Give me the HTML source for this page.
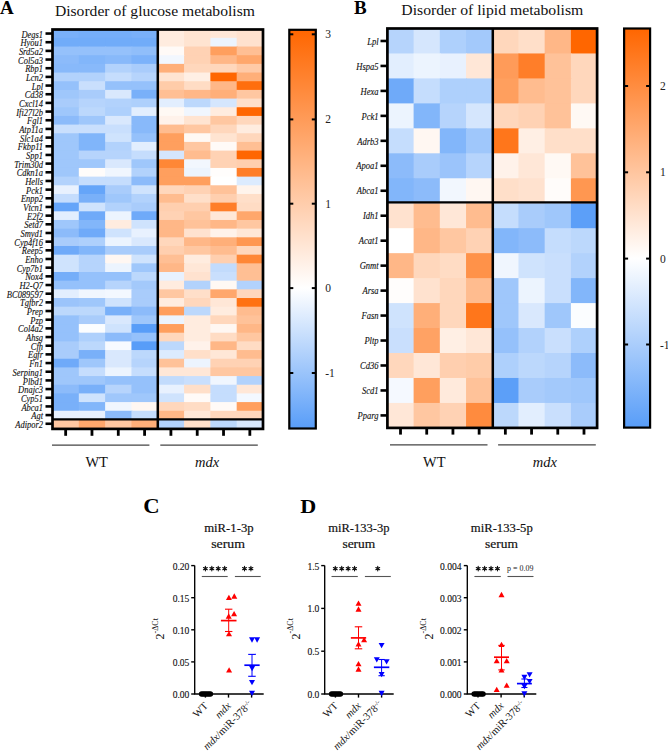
<!DOCTYPE html><html><head><meta charset="utf-8"><style>html,body{margin:0;padding:0;background:#fff;overflow:hidden}svg{display:block}</style></head><body>
<svg width="668" height="752" viewBox="0 0 668 752" font-family="Liberation Serif">
<defs>
<linearGradient id="cbA" x1="0" y1="0" x2="0" y2="1"><stop offset="0" stop-color="#ff6600"/><stop offset="0.6481" stop-color="#ffffff"/><stop offset="1" stop-color="#589df8"/></linearGradient>
<linearGradient id="cbB" x1="0" y1="0" x2="0" y2="1"><stop offset="0" stop-color="#ff6600"/><stop offset="0.5761" stop-color="#ffffff"/><stop offset="1" stop-color="#589df8"/></linearGradient>
</defs>
<text x="0" y="13.7" font-weight="bold" font-size="19">A</text>
<text x="354" y="13.7" font-weight="bold" font-size="19">B</text>
<text x="143.3" y="513.2" font-weight="bold" font-size="20" textLength="16.4" lengthAdjust="spacingAndGlyphs">C</text>
<text x="300.2" y="512.7" font-weight="bold" font-size="18.5" textLength="16.0" lengthAdjust="spacingAndGlyphs">D</text>
<text x="54.9" y="16.3" font-size="14.5" textLength="200" lengthAdjust="spacingAndGlyphs" fill="#111">Disorder of glucose metabolism</text>
<text x="401.3" y="15.2" font-size="14.5" textLength="182" lengthAdjust="spacingAndGlyphs" fill="#111">Disorder of lipid metabolism</text>
<rect x="52.50" y="29.20" width="27.31" height="9.67" fill="#79b0f9"/>
<rect x="78.81" y="29.20" width="27.31" height="9.67" fill="#75aef9"/>
<rect x="105.12" y="29.20" width="27.31" height="9.67" fill="#75aef9"/>
<rect x="131.44" y="29.20" width="27.31" height="9.67" fill="#79b0f9"/>
<rect x="157.75" y="29.20" width="27.31" height="9.67" fill="#ffecdf"/>
<rect x="184.06" y="29.20" width="27.31" height="9.67" fill="#ffe4d1"/>
<rect x="210.38" y="29.20" width="27.31" height="9.67" fill="#ffe7d7"/>
<rect x="236.69" y="29.20" width="27.31" height="9.67" fill="#ffe2cf"/>
<rect x="52.50" y="37.87" width="27.31" height="9.67" fill="#71acf9"/>
<rect x="78.81" y="37.87" width="27.31" height="9.67" fill="#71acf9"/>
<rect x="105.12" y="37.87" width="27.31" height="9.67" fill="#71acf9"/>
<rect x="131.44" y="37.87" width="27.31" height="9.67" fill="#71acf9"/>
<rect x="157.75" y="37.87" width="27.31" height="9.67" fill="#ffecdf"/>
<rect x="184.06" y="37.87" width="27.31" height="9.67" fill="#ffe4d1"/>
<rect x="210.38" y="37.87" width="27.31" height="9.67" fill="#ecf4fe"/>
<rect x="236.69" y="37.87" width="27.31" height="9.67" fill="#ffe2cf"/>
<rect x="52.50" y="46.54" width="27.31" height="9.67" fill="#95c1fb"/>
<rect x="78.81" y="46.54" width="27.31" height="9.67" fill="#95c1fb"/>
<rect x="105.12" y="46.54" width="27.31" height="9.67" fill="#95c1fb"/>
<rect x="131.44" y="46.54" width="27.31" height="9.67" fill="#90befa"/>
<rect x="157.75" y="46.54" width="27.31" height="9.67" fill="#fffaf7"/>
<rect x="184.06" y="46.54" width="27.31" height="9.67" fill="#ffd2b4"/>
<rect x="210.38" y="46.54" width="27.31" height="9.67" fill="#ff9f5e"/>
<rect x="236.69" y="46.54" width="27.31" height="9.67" fill="#ffbf94"/>
<rect x="52.50" y="55.22" width="27.31" height="9.67" fill="#8cbbfa"/>
<rect x="78.81" y="55.22" width="27.31" height="9.67" fill="#82b6fa"/>
<rect x="105.12" y="55.22" width="27.31" height="9.67" fill="#88b9fa"/>
<rect x="131.44" y="55.22" width="27.31" height="9.67" fill="#7cb2fa"/>
<rect x="157.75" y="55.22" width="27.31" height="9.67" fill="#f2f7fe"/>
<rect x="184.06" y="55.22" width="27.31" height="9.67" fill="#ffd2b4"/>
<rect x="210.38" y="55.22" width="27.31" height="9.67" fill="#ffb787"/>
<rect x="236.69" y="55.22" width="27.31" height="9.67" fill="#ffa76c"/>
<rect x="52.50" y="63.89" width="27.31" height="9.67" fill="#88b9fa"/>
<rect x="78.81" y="63.89" width="27.31" height="9.67" fill="#88b9fa"/>
<rect x="105.12" y="63.89" width="27.31" height="9.67" fill="#b2d2fc"/>
<rect x="131.44" y="63.89" width="27.31" height="9.67" fill="#a9ccfb"/>
<rect x="157.75" y="63.89" width="27.31" height="9.67" fill="#ffaf79"/>
<rect x="184.06" y="63.89" width="27.31" height="9.67" fill="#ffd7bc"/>
<rect x="210.38" y="63.89" width="27.31" height="9.67" fill="#ffd7bc"/>
<rect x="236.69" y="63.89" width="27.31" height="9.67" fill="#ffcaa7"/>
<rect x="52.50" y="72.56" width="27.31" height="9.67" fill="#b2d2fc"/>
<rect x="78.81" y="72.56" width="27.31" height="9.67" fill="#b2d2fc"/>
<rect x="105.12" y="72.56" width="27.31" height="9.67" fill="#c5ddfd"/>
<rect x="131.44" y="72.56" width="27.31" height="9.67" fill="#b6d4fc"/>
<rect x="157.75" y="72.56" width="27.31" height="9.67" fill="#ffe4d1"/>
<rect x="184.06" y="72.56" width="27.31" height="9.67" fill="#ffefe4"/>
<rect x="210.38" y="72.56" width="27.31" height="9.67" fill="#ff6601"/>
<rect x="236.69" y="72.56" width="27.31" height="9.67" fill="#ffaf79"/>
<rect x="52.50" y="81.23" width="27.31" height="9.67" fill="#95c1fb"/>
<rect x="78.81" y="81.23" width="27.31" height="9.67" fill="#c9dffd"/>
<rect x="105.12" y="81.23" width="27.31" height="9.67" fill="#95c1fb"/>
<rect x="131.44" y="81.23" width="27.31" height="9.67" fill="#95c1fb"/>
<rect x="157.75" y="81.23" width="27.31" height="9.67" fill="#ffcca9"/>
<rect x="184.06" y="81.23" width="27.31" height="9.67" fill="#ffdcc4"/>
<rect x="210.38" y="81.23" width="27.31" height="9.67" fill="#ffb787"/>
<rect x="236.69" y="81.23" width="27.31" height="9.67" fill="#ff6e0e"/>
<rect x="52.50" y="89.90" width="27.31" height="9.67" fill="#9fc7fb"/>
<rect x="78.81" y="89.90" width="27.31" height="9.67" fill="#a9ccfb"/>
<rect x="105.12" y="89.90" width="27.31" height="9.67" fill="#d9e8fd"/>
<rect x="131.44" y="89.90" width="27.31" height="9.67" fill="#79b0f9"/>
<rect x="157.75" y="89.90" width="27.31" height="9.67" fill="#ffbf94"/>
<rect x="184.06" y="89.90" width="27.31" height="9.67" fill="#ffb787"/>
<rect x="210.38" y="89.90" width="27.31" height="9.67" fill="#ffaf79"/>
<rect x="236.69" y="89.90" width="27.31" height="9.67" fill="#ffc7a1"/>
<rect x="52.50" y="98.57" width="27.31" height="9.67" fill="#a9ccfb"/>
<rect x="78.81" y="98.57" width="27.31" height="9.67" fill="#b6d4fc"/>
<rect x="105.12" y="98.57" width="27.31" height="9.67" fill="#b2d2fc"/>
<rect x="131.44" y="98.57" width="27.31" height="9.67" fill="#aed0fc"/>
<rect x="157.75" y="98.57" width="27.31" height="9.67" fill="#e2eefe"/>
<rect x="184.06" y="98.57" width="27.31" height="9.67" fill="#bcd8fc"/>
<rect x="210.38" y="98.57" width="27.31" height="9.67" fill="#d5e6fd"/>
<rect x="236.69" y="98.57" width="27.31" height="9.67" fill="#ffdfc9"/>
<rect x="52.50" y="107.25" width="27.31" height="9.67" fill="#9fc7fb"/>
<rect x="78.81" y="107.25" width="27.31" height="9.67" fill="#bcd8fc"/>
<rect x="105.12" y="107.25" width="27.31" height="9.67" fill="#aed0fc"/>
<rect x="131.44" y="107.25" width="27.31" height="9.67" fill="#e2eefe"/>
<rect x="157.75" y="107.25" width="27.31" height="9.67" fill="#fff9f4"/>
<rect x="184.06" y="107.25" width="27.31" height="9.67" fill="#f0f6fe"/>
<rect x="210.38" y="107.25" width="27.31" height="9.67" fill="#ffecdf"/>
<rect x="236.69" y="107.25" width="27.31" height="9.67" fill="#ff6601"/>
<rect x="52.50" y="115.92" width="27.31" height="9.67" fill="#8cbbfa"/>
<rect x="78.81" y="115.92" width="27.31" height="9.67" fill="#9fc7fb"/>
<rect x="105.12" y="115.92" width="27.31" height="9.67" fill="#d9e8fd"/>
<rect x="131.44" y="115.92" width="27.31" height="9.67" fill="#88b9fa"/>
<rect x="157.75" y="115.92" width="27.31" height="9.67" fill="#fff2ea"/>
<rect x="184.06" y="115.92" width="27.31" height="9.67" fill="#ffe4d1"/>
<rect x="210.38" y="115.92" width="27.31" height="9.67" fill="#ffc7a1"/>
<rect x="236.69" y="115.92" width="27.31" height="9.67" fill="#ffd7bc"/>
<rect x="52.50" y="124.59" width="27.31" height="9.67" fill="#c9dffd"/>
<rect x="78.81" y="124.59" width="27.31" height="9.67" fill="#c9dffd"/>
<rect x="105.12" y="124.59" width="27.31" height="9.67" fill="#c9dffd"/>
<rect x="131.44" y="124.59" width="27.31" height="9.67" fill="#88b9fa"/>
<rect x="157.75" y="124.59" width="27.31" height="9.67" fill="#ffbc8f"/>
<rect x="184.06" y="124.59" width="27.31" height="9.67" fill="#ffc7a1"/>
<rect x="210.38" y="124.59" width="27.31" height="9.67" fill="#ffd7bc"/>
<rect x="236.69" y="124.59" width="27.31" height="9.67" fill="#ffecdf"/>
<rect x="52.50" y="133.26" width="27.31" height="9.67" fill="#9fc7fb"/>
<rect x="78.81" y="133.26" width="27.31" height="9.67" fill="#80b5fa"/>
<rect x="105.12" y="133.26" width="27.31" height="9.67" fill="#cfe3fd"/>
<rect x="131.44" y="133.26" width="27.31" height="9.67" fill="#95c1fb"/>
<rect x="157.75" y="133.26" width="27.31" height="9.67" fill="#ff9f5e"/>
<rect x="184.06" y="133.26" width="27.31" height="9.67" fill="#fff9f4"/>
<rect x="210.38" y="133.26" width="27.31" height="9.67" fill="#ffe4d1"/>
<rect x="236.69" y="133.26" width="27.31" height="9.67" fill="#ffd7bc"/>
<rect x="52.50" y="141.93" width="27.31" height="9.67" fill="#9fc7fb"/>
<rect x="78.81" y="141.93" width="27.31" height="9.67" fill="#80b5fa"/>
<rect x="105.12" y="141.93" width="27.31" height="9.67" fill="#b2d2fc"/>
<rect x="131.44" y="141.93" width="27.31" height="9.67" fill="#e2eefe"/>
<rect x="157.75" y="141.93" width="27.31" height="9.67" fill="#ff9f5e"/>
<rect x="184.06" y="141.93" width="27.31" height="9.67" fill="#ffc7a1"/>
<rect x="210.38" y="141.93" width="27.31" height="9.67" fill="#fffaf7"/>
<rect x="236.69" y="141.93" width="27.31" height="9.67" fill="#ffbf94"/>
<rect x="52.50" y="150.60" width="27.31" height="9.67" fill="#9fc7fb"/>
<rect x="78.81" y="150.60" width="27.31" height="9.67" fill="#b6d4fc"/>
<rect x="105.12" y="150.60" width="27.31" height="9.67" fill="#b6d4fc"/>
<rect x="131.44" y="150.60" width="27.31" height="9.67" fill="#c5ddfd"/>
<rect x="157.75" y="150.60" width="27.31" height="9.67" fill="#d5e6fd"/>
<rect x="184.06" y="150.60" width="27.31" height="9.67" fill="#ffbc8f"/>
<rect x="210.38" y="150.60" width="27.31" height="9.67" fill="#ffd2b4"/>
<rect x="236.69" y="150.60" width="27.31" height="9.67" fill="#ff6601"/>
<rect x="52.50" y="159.28" width="27.31" height="9.67" fill="#9fc7fb"/>
<rect x="78.81" y="159.28" width="27.31" height="9.67" fill="#9fc7fb"/>
<rect x="105.12" y="159.28" width="27.31" height="9.67" fill="#d9e8fd"/>
<rect x="131.44" y="159.28" width="27.31" height="9.67" fill="#9fc7fb"/>
<rect x="157.75" y="159.28" width="27.31" height="9.67" fill="#ff8736"/>
<rect x="184.06" y="159.28" width="27.31" height="9.67" fill="#f2f7fe"/>
<rect x="210.38" y="159.28" width="27.31" height="9.67" fill="#ffd2b4"/>
<rect x="236.69" y="159.28" width="27.31" height="9.67" fill="#ffcfaf"/>
<rect x="52.50" y="167.95" width="27.31" height="9.67" fill="#9fc7fb"/>
<rect x="78.81" y="167.95" width="27.31" height="9.67" fill="#fffcfa"/>
<rect x="105.12" y="167.95" width="27.31" height="9.67" fill="#f0f6fe"/>
<rect x="131.44" y="167.95" width="27.31" height="9.67" fill="#b2d2fc"/>
<rect x="157.75" y="167.95" width="27.31" height="9.67" fill="#ff9f5e"/>
<rect x="184.06" y="167.95" width="27.31" height="9.67" fill="#ecf4fe"/>
<rect x="210.38" y="167.95" width="27.31" height="9.67" fill="#fffdfc"/>
<rect x="236.69" y="167.95" width="27.31" height="9.67" fill="#ff7e29"/>
<rect x="52.50" y="176.62" width="27.31" height="9.67" fill="#b2d2fc"/>
<rect x="78.81" y="176.62" width="27.31" height="9.67" fill="#c5ddfd"/>
<rect x="105.12" y="176.62" width="27.31" height="9.67" fill="#c5ddfd"/>
<rect x="131.44" y="176.62" width="27.31" height="9.67" fill="#8cbbfa"/>
<rect x="157.75" y="176.62" width="27.31" height="9.67" fill="#ff9f5e"/>
<rect x="184.06" y="176.62" width="27.31" height="9.67" fill="#ff9f5e"/>
<rect x="210.38" y="176.62" width="27.31" height="9.67" fill="#ffffff"/>
<rect x="236.69" y="176.62" width="27.31" height="9.67" fill="#dcebfe"/>
<rect x="52.50" y="185.29" width="27.31" height="9.67" fill="#e8f1fe"/>
<rect x="78.81" y="185.29" width="27.31" height="9.67" fill="#65a5f9"/>
<rect x="105.12" y="185.29" width="27.31" height="9.67" fill="#a9ccfb"/>
<rect x="131.44" y="185.29" width="27.31" height="9.67" fill="#cfe3fd"/>
<rect x="157.75" y="185.29" width="27.31" height="9.67" fill="#ffd7bc"/>
<rect x="184.06" y="185.29" width="27.31" height="9.67" fill="#ffd2b4"/>
<rect x="210.38" y="185.29" width="27.31" height="9.67" fill="#ffc299"/>
<rect x="236.69" y="185.29" width="27.31" height="9.67" fill="#fff4ec"/>
<rect x="52.50" y="193.96" width="27.31" height="9.67" fill="#c5ddfd"/>
<rect x="78.81" y="193.96" width="27.31" height="9.67" fill="#79b0f9"/>
<rect x="105.12" y="193.96" width="27.31" height="9.67" fill="#9fc7fb"/>
<rect x="131.44" y="193.96" width="27.31" height="9.67" fill="#b2d2fc"/>
<rect x="157.75" y="193.96" width="27.31" height="9.67" fill="#ffbc8f"/>
<rect x="184.06" y="193.96" width="27.31" height="9.67" fill="#ffdfc9"/>
<rect x="210.38" y="193.96" width="27.31" height="9.67" fill="#ffcfaf"/>
<rect x="236.69" y="193.96" width="27.31" height="9.67" fill="#ffdfc9"/>
<rect x="52.50" y="202.63" width="27.31" height="9.67" fill="#65a5f9"/>
<rect x="78.81" y="202.63" width="27.31" height="9.67" fill="#cfe3fd"/>
<rect x="105.12" y="202.63" width="27.31" height="9.67" fill="#b2d2fc"/>
<rect x="131.44" y="202.63" width="27.31" height="9.67" fill="#a9ccfb"/>
<rect x="157.75" y="202.63" width="27.31" height="9.67" fill="#ffcfaf"/>
<rect x="184.06" y="202.63" width="27.31" height="9.67" fill="#ffcfaf"/>
<rect x="210.38" y="202.63" width="27.31" height="9.67" fill="#ff7e29"/>
<rect x="236.69" y="202.63" width="27.31" height="9.67" fill="#ffdcc4"/>
<rect x="52.50" y="211.31" width="27.31" height="9.67" fill="#e2eefe"/>
<rect x="78.81" y="211.31" width="27.31" height="9.67" fill="#6faaf9"/>
<rect x="105.12" y="211.31" width="27.31" height="9.67" fill="#ecf4fe"/>
<rect x="131.44" y="211.31" width="27.31" height="9.67" fill="#6faaf9"/>
<rect x="157.75" y="211.31" width="27.31" height="9.67" fill="#ffd2b4"/>
<rect x="184.06" y="211.31" width="27.31" height="9.67" fill="#ffc7a1"/>
<rect x="210.38" y="211.31" width="27.31" height="9.67" fill="#ffe7d7"/>
<rect x="236.69" y="211.31" width="27.31" height="9.67" fill="#ffa76c"/>
<rect x="52.50" y="219.98" width="27.31" height="9.67" fill="#9fc7fb"/>
<rect x="78.81" y="219.98" width="27.31" height="9.67" fill="#82b6fa"/>
<rect x="105.12" y="219.98" width="27.31" height="9.67" fill="#ffecdf"/>
<rect x="131.44" y="219.98" width="27.31" height="9.67" fill="#cfe3fd"/>
<rect x="157.75" y="219.98" width="27.31" height="9.67" fill="#ffb787"/>
<rect x="184.06" y="219.98" width="27.31" height="9.67" fill="#ffc299"/>
<rect x="210.38" y="219.98" width="27.31" height="9.67" fill="#ffb787"/>
<rect x="236.69" y="219.98" width="27.31" height="9.67" fill="#ffc7a1"/>
<rect x="52.50" y="228.65" width="27.31" height="9.67" fill="#8cbbfa"/>
<rect x="78.81" y="228.65" width="27.31" height="9.67" fill="#6faaf9"/>
<rect x="105.12" y="228.65" width="27.31" height="9.67" fill="#cfe3fd"/>
<rect x="131.44" y="228.65" width="27.31" height="9.67" fill="#e8f1fe"/>
<rect x="157.75" y="228.65" width="27.31" height="9.67" fill="#ffb787"/>
<rect x="184.06" y="228.65" width="27.31" height="9.67" fill="#ffe2cf"/>
<rect x="210.38" y="228.65" width="27.31" height="9.67" fill="#fff2ea"/>
<rect x="236.69" y="228.65" width="27.31" height="9.67" fill="#ffe7d7"/>
<rect x="52.50" y="237.32" width="27.31" height="9.67" fill="#a9ccfb"/>
<rect x="78.81" y="237.32" width="27.31" height="9.67" fill="#aed0fc"/>
<rect x="105.12" y="237.32" width="27.31" height="9.67" fill="#ecf4fe"/>
<rect x="131.44" y="237.32" width="27.31" height="9.67" fill="#d9e8fd"/>
<rect x="157.75" y="237.32" width="27.31" height="9.67" fill="#ffd7bc"/>
<rect x="184.06" y="237.32" width="27.31" height="9.67" fill="#ffb787"/>
<rect x="210.38" y="237.32" width="27.31" height="9.67" fill="#ffaf79"/>
<rect x="236.69" y="237.32" width="27.31" height="9.67" fill="#ff9751"/>
<rect x="52.50" y="245.99" width="27.31" height="9.67" fill="#6faaf9"/>
<rect x="78.81" y="245.99" width="27.31" height="9.67" fill="#82b6fa"/>
<rect x="105.12" y="245.99" width="27.31" height="9.67" fill="#a9ccfb"/>
<rect x="131.44" y="245.99" width="27.31" height="9.67" fill="#a9ccfb"/>
<rect x="157.75" y="245.99" width="27.31" height="9.67" fill="#ffcfaf"/>
<rect x="184.06" y="245.99" width="27.31" height="9.67" fill="#ffc7a1"/>
<rect x="210.38" y="245.99" width="27.31" height="9.67" fill="#ffbc8f"/>
<rect x="236.69" y="245.99" width="27.31" height="9.67" fill="#ffd7bc"/>
<rect x="52.50" y="254.67" width="27.31" height="9.67" fill="#cfe3fd"/>
<rect x="78.81" y="254.67" width="27.31" height="9.67" fill="#b6d4fc"/>
<rect x="105.12" y="254.67" width="27.31" height="9.67" fill="#fff7f2"/>
<rect x="131.44" y="254.67" width="27.31" height="9.67" fill="#cfe3fd"/>
<rect x="157.75" y="254.67" width="27.31" height="9.67" fill="#ffbf94"/>
<rect x="184.06" y="254.67" width="27.31" height="9.67" fill="#ffecdf"/>
<rect x="210.38" y="254.67" width="27.31" height="9.67" fill="#ffcfaf"/>
<rect x="236.69" y="254.67" width="27.31" height="9.67" fill="#ff8736"/>
<rect x="52.50" y="263.34" width="27.31" height="9.67" fill="#cfe3fd"/>
<rect x="78.81" y="263.34" width="27.31" height="9.67" fill="#b6d4fc"/>
<rect x="105.12" y="263.34" width="27.31" height="9.67" fill="#ecf4fe"/>
<rect x="131.44" y="263.34" width="27.31" height="9.67" fill="#9fc7fb"/>
<rect x="157.75" y="263.34" width="27.31" height="9.67" fill="#ffb787"/>
<rect x="184.06" y="263.34" width="27.31" height="9.67" fill="#ffe7d7"/>
<rect x="210.38" y="263.34" width="27.31" height="9.67" fill="#c2dbfc"/>
<rect x="236.69" y="263.34" width="27.31" height="9.67" fill="#ffbf94"/>
<rect x="52.50" y="272.01" width="27.31" height="9.67" fill="#75aef9"/>
<rect x="78.81" y="272.01" width="27.31" height="9.67" fill="#95c1fb"/>
<rect x="105.12" y="272.01" width="27.31" height="9.67" fill="#95c1fb"/>
<rect x="131.44" y="272.01" width="27.31" height="9.67" fill="#bcd8fc"/>
<rect x="157.75" y="272.01" width="27.31" height="9.67" fill="#e8f1fe"/>
<rect x="184.06" y="272.01" width="27.31" height="9.67" fill="#ffe2cf"/>
<rect x="210.38" y="272.01" width="27.31" height="9.67" fill="#c9dffd"/>
<rect x="236.69" y="272.01" width="27.31" height="9.67" fill="#ffbf94"/>
<rect x="52.50" y="280.68" width="27.31" height="9.67" fill="#95c1fb"/>
<rect x="78.81" y="280.68" width="27.31" height="9.67" fill="#95c1fb"/>
<rect x="105.12" y="280.68" width="27.31" height="9.67" fill="#b6d4fc"/>
<rect x="131.44" y="280.68" width="27.31" height="9.67" fill="#a3c9fb"/>
<rect x="157.75" y="280.68" width="27.31" height="9.67" fill="#ffecdf"/>
<rect x="184.06" y="280.68" width="27.31" height="9.67" fill="#b2d2fc"/>
<rect x="210.38" y="280.68" width="27.31" height="9.67" fill="#fff9f4"/>
<rect x="236.69" y="280.68" width="27.31" height="9.67" fill="#b2d2fc"/>
<rect x="52.50" y="289.35" width="27.31" height="9.67" fill="#e2eefe"/>
<rect x="78.81" y="289.35" width="27.31" height="9.67" fill="#f0f6fe"/>
<rect x="105.12" y="289.35" width="27.31" height="9.67" fill="#f3f8ff"/>
<rect x="131.44" y="289.35" width="27.31" height="9.67" fill="#a9ccfb"/>
<rect x="157.75" y="289.35" width="27.31" height="9.67" fill="#ffc7a1"/>
<rect x="184.06" y="289.35" width="27.31" height="9.67" fill="#ffdfc9"/>
<rect x="210.38" y="289.35" width="27.31" height="9.67" fill="#ffa76c"/>
<rect x="236.69" y="289.35" width="27.31" height="9.67" fill="#ffd7bc"/>
<rect x="52.50" y="298.02" width="27.31" height="9.67" fill="#9bc4fb"/>
<rect x="78.81" y="298.02" width="27.31" height="9.67" fill="#9fc7fb"/>
<rect x="105.12" y="298.02" width="27.31" height="9.67" fill="#cfe3fd"/>
<rect x="131.44" y="298.02" width="27.31" height="9.67" fill="#a9ccfb"/>
<rect x="157.75" y="298.02" width="27.31" height="9.67" fill="#ffecdf"/>
<rect x="184.06" y="298.02" width="27.31" height="9.67" fill="#ffd7bc"/>
<rect x="210.38" y="298.02" width="27.31" height="9.67" fill="#ffe7d7"/>
<rect x="236.69" y="298.02" width="27.31" height="9.67" fill="#ff7213"/>
<rect x="52.50" y="306.70" width="27.31" height="9.67" fill="#bcd8fc"/>
<rect x="78.81" y="306.70" width="27.31" height="9.67" fill="#bcd8fc"/>
<rect x="105.12" y="306.70" width="27.31" height="9.67" fill="#79b0f9"/>
<rect x="131.44" y="306.70" width="27.31" height="9.67" fill="#8cbbfa"/>
<rect x="157.75" y="306.70" width="27.31" height="9.67" fill="#ff9f5e"/>
<rect x="184.06" y="306.70" width="27.31" height="9.67" fill="#bcd8fc"/>
<rect x="210.38" y="306.70" width="27.31" height="9.67" fill="#ffecdf"/>
<rect x="236.69" y="306.70" width="27.31" height="9.67" fill="#ffbc8f"/>
<rect x="52.50" y="315.37" width="27.31" height="9.67" fill="#95c1fb"/>
<rect x="78.81" y="315.37" width="27.31" height="9.67" fill="#a9ccfb"/>
<rect x="105.12" y="315.37" width="27.31" height="9.67" fill="#d9e8fd"/>
<rect x="131.44" y="315.37" width="27.31" height="9.67" fill="#9fc7fb"/>
<rect x="157.75" y="315.37" width="27.31" height="9.67" fill="#ecf4fe"/>
<rect x="184.06" y="315.37" width="27.31" height="9.67" fill="#ffecdf"/>
<rect x="210.38" y="315.37" width="27.31" height="9.67" fill="#ffd7bc"/>
<rect x="236.69" y="315.37" width="27.31" height="9.67" fill="#ffc299"/>
<rect x="52.50" y="324.04" width="27.31" height="9.67" fill="#95c1fb"/>
<rect x="78.81" y="324.04" width="27.31" height="9.67" fill="#fbfdff"/>
<rect x="105.12" y="324.04" width="27.31" height="9.67" fill="#cfe3fd"/>
<rect x="131.44" y="324.04" width="27.31" height="9.67" fill="#589df8"/>
<rect x="157.75" y="324.04" width="27.31" height="9.67" fill="#ff9f5e"/>
<rect x="184.06" y="324.04" width="27.31" height="9.67" fill="#ffecdf"/>
<rect x="210.38" y="324.04" width="27.31" height="9.67" fill="#fff7f2"/>
<rect x="236.69" y="324.04" width="27.31" height="9.67" fill="#ffb787"/>
<rect x="52.50" y="332.71" width="27.31" height="9.67" fill="#95c1fb"/>
<rect x="78.81" y="332.71" width="27.31" height="9.67" fill="#aed0fc"/>
<rect x="105.12" y="332.71" width="27.31" height="9.67" fill="#8cbbfa"/>
<rect x="131.44" y="332.71" width="27.31" height="9.67" fill="#95c1fb"/>
<rect x="157.75" y="332.71" width="27.31" height="9.67" fill="#ffd7bc"/>
<rect x="184.06" y="332.71" width="27.31" height="9.67" fill="#ffecdf"/>
<rect x="210.38" y="332.71" width="27.31" height="9.67" fill="#ffdcc4"/>
<rect x="236.69" y="332.71" width="27.31" height="9.67" fill="#ffc7a1"/>
<rect x="52.50" y="341.38" width="27.31" height="9.67" fill="#a9ccfb"/>
<rect x="78.81" y="341.38" width="27.31" height="9.67" fill="#bcd8fc"/>
<rect x="105.12" y="341.38" width="27.31" height="9.67" fill="#f7faff"/>
<rect x="131.44" y="341.38" width="27.31" height="9.67" fill="#589df8"/>
<rect x="157.75" y="341.38" width="27.31" height="9.67" fill="#bcd8fc"/>
<rect x="184.06" y="341.38" width="27.31" height="9.67" fill="#fff2ea"/>
<rect x="210.38" y="341.38" width="27.31" height="9.67" fill="#ffb787"/>
<rect x="236.69" y="341.38" width="27.31" height="9.67" fill="#ffdcc4"/>
<rect x="52.50" y="350.05" width="27.31" height="9.67" fill="#a9ccfb"/>
<rect x="78.81" y="350.05" width="27.31" height="9.67" fill="#79b0f9"/>
<rect x="105.12" y="350.05" width="27.31" height="9.67" fill="#d9e8fd"/>
<rect x="131.44" y="350.05" width="27.31" height="9.67" fill="#bcd8fc"/>
<rect x="157.75" y="350.05" width="27.31" height="9.67" fill="#dcebfe"/>
<rect x="184.06" y="350.05" width="27.31" height="9.67" fill="#ffdfc9"/>
<rect x="210.38" y="350.05" width="27.31" height="9.67" fill="#ffe7d7"/>
<rect x="236.69" y="350.05" width="27.31" height="9.67" fill="#ffbc8f"/>
<rect x="52.50" y="358.73" width="27.31" height="9.67" fill="#6faaf9"/>
<rect x="78.81" y="358.73" width="27.31" height="9.67" fill="#9fc7fb"/>
<rect x="105.12" y="358.73" width="27.31" height="9.67" fill="#d9e8fd"/>
<rect x="131.44" y="358.73" width="27.31" height="9.67" fill="#b6d4fc"/>
<rect x="157.75" y="358.73" width="27.31" height="9.67" fill="#ffc299"/>
<rect x="184.06" y="358.73" width="27.31" height="9.67" fill="#ecf4fe"/>
<rect x="210.38" y="358.73" width="27.31" height="9.67" fill="#ffd2b4"/>
<rect x="236.69" y="358.73" width="27.31" height="9.67" fill="#ffd2b4"/>
<rect x="52.50" y="367.40" width="27.31" height="9.67" fill="#9fc7fb"/>
<rect x="78.81" y="367.40" width="27.31" height="9.67" fill="#c5ddfd"/>
<rect x="105.12" y="367.40" width="27.31" height="9.67" fill="#ecf4fe"/>
<rect x="131.44" y="367.40" width="27.31" height="9.67" fill="#c5ddfd"/>
<rect x="157.75" y="367.40" width="27.31" height="9.67" fill="#ffe7d7"/>
<rect x="184.06" y="367.40" width="27.31" height="9.67" fill="#ffe7d7"/>
<rect x="210.38" y="367.40" width="27.31" height="9.67" fill="#ffc7a1"/>
<rect x="236.69" y="367.40" width="27.31" height="9.67" fill="#ffc7a1"/>
<rect x="52.50" y="376.07" width="27.31" height="9.67" fill="#9fc7fb"/>
<rect x="78.81" y="376.07" width="27.31" height="9.67" fill="#9fc7fb"/>
<rect x="105.12" y="376.07" width="27.31" height="9.67" fill="#95c1fb"/>
<rect x="131.44" y="376.07" width="27.31" height="9.67" fill="#95c1fb"/>
<rect x="157.75" y="376.07" width="27.31" height="9.67" fill="#c2dbfc"/>
<rect x="184.06" y="376.07" width="27.31" height="9.67" fill="#c9dffd"/>
<rect x="210.38" y="376.07" width="27.31" height="9.67" fill="#f0f6fe"/>
<rect x="236.69" y="376.07" width="27.31" height="9.67" fill="#b2d2fc"/>
<rect x="52.50" y="384.74" width="27.31" height="9.67" fill="#8cbbfa"/>
<rect x="78.81" y="384.74" width="27.31" height="9.67" fill="#79b0f9"/>
<rect x="105.12" y="384.74" width="27.31" height="9.67" fill="#b6d4fc"/>
<rect x="131.44" y="384.74" width="27.31" height="9.67" fill="#95c1fb"/>
<rect x="157.75" y="384.74" width="27.31" height="9.67" fill="#e8f1fe"/>
<rect x="184.06" y="384.74" width="27.31" height="9.67" fill="#ffdfc9"/>
<rect x="210.38" y="384.74" width="27.31" height="9.67" fill="#c5ddfd"/>
<rect x="236.69" y="384.74" width="27.31" height="9.67" fill="#ffe7d7"/>
<rect x="52.50" y="393.41" width="27.31" height="9.67" fill="#79b0f9"/>
<rect x="78.81" y="393.41" width="27.31" height="9.67" fill="#cfe3fd"/>
<rect x="105.12" y="393.41" width="27.31" height="9.67" fill="#9fc7fb"/>
<rect x="131.44" y="393.41" width="27.31" height="9.67" fill="#9fc7fb"/>
<rect x="157.75" y="393.41" width="27.31" height="9.67" fill="#cfe3fd"/>
<rect x="184.06" y="393.41" width="27.31" height="9.67" fill="#fffaf7"/>
<rect x="210.38" y="393.41" width="27.31" height="9.67" fill="#c5ddfd"/>
<rect x="236.69" y="393.41" width="27.31" height="9.67" fill="#f3f8ff"/>
<rect x="52.50" y="402.08" width="27.31" height="9.67" fill="#79b0f9"/>
<rect x="78.81" y="402.08" width="27.31" height="9.67" fill="#82b6fa"/>
<rect x="105.12" y="402.08" width="27.31" height="9.67" fill="#f0f6fe"/>
<rect x="131.44" y="402.08" width="27.31" height="9.67" fill="#fff7f2"/>
<rect x="157.75" y="402.08" width="27.31" height="9.67" fill="#ffd7bc"/>
<rect x="184.06" y="402.08" width="27.31" height="9.67" fill="#ffdcc4"/>
<rect x="210.38" y="402.08" width="27.31" height="9.67" fill="#fffaf7"/>
<rect x="236.69" y="402.08" width="27.31" height="9.67" fill="#ff9f5e"/>
<rect x="52.50" y="410.76" width="27.31" height="9.67" fill="#e8f1fe"/>
<rect x="78.81" y="410.76" width="27.31" height="9.67" fill="#e8f1fe"/>
<rect x="105.12" y="410.76" width="27.31" height="9.67" fill="#8cbbfa"/>
<rect x="131.44" y="410.76" width="27.31" height="9.67" fill="#c5ddfd"/>
<rect x="157.75" y="410.76" width="27.31" height="9.67" fill="#ffb787"/>
<rect x="184.06" y="410.76" width="27.31" height="9.67" fill="#ffe7d7"/>
<rect x="210.38" y="410.76" width="27.31" height="9.67" fill="#ffd7bc"/>
<rect x="236.69" y="410.76" width="27.31" height="9.67" fill="#ffd7bc"/>
<rect x="52.50" y="419.43" width="27.31" height="9.67" fill="#ffc7a1"/>
<rect x="78.81" y="419.43" width="27.31" height="9.67" fill="#ffa76c"/>
<rect x="105.12" y="419.43" width="27.31" height="9.67" fill="#ffc7a1"/>
<rect x="131.44" y="419.43" width="27.31" height="9.67" fill="#ffaf79"/>
<rect x="157.75" y="419.43" width="27.31" height="9.67" fill="#b2d2fc"/>
<rect x="184.06" y="419.43" width="27.31" height="9.67" fill="#ffdfc9"/>
<rect x="210.38" y="419.43" width="27.31" height="9.67" fill="#bcd8fc"/>
<rect x="236.69" y="419.43" width="27.31" height="9.67" fill="#d9e8fd"/>
<line x1="157.8" y1="29.5" x2="157.8" y2="428.9" stroke="#000" stroke-width="2.5"/>
<line x1="52.5" y1="419.43" x2="263.0" y2="419.43" stroke="#000" stroke-width="2.2"/>
<rect x="52.5" y="29.5" width="210.5" height="399.4" fill="none" stroke="#000" stroke-width="2.7"/>
<line x1="45.5" y1="33.54" x2="52.5" y2="33.54" stroke="#000" stroke-width="2.6"/>
<text transform="translate(43.0,37.64) scale(0.9,1)" text-anchor="end" font-style="italic" font-size="9.4" fill="#111" stroke="#111" stroke-width="0.12">Degs1</text>
<line x1="45.5" y1="42.21" x2="52.5" y2="42.21" stroke="#000" stroke-width="2.6"/>
<text transform="translate(43.0,46.31) scale(0.9,1)" text-anchor="end" font-style="italic" font-size="9.4" fill="#111" stroke="#111" stroke-width="0.12">Hyou1</text>
<line x1="45.5" y1="50.88" x2="52.5" y2="50.88" stroke="#000" stroke-width="2.6"/>
<text transform="translate(43.0,54.98) scale(0.9,1)" text-anchor="end" font-style="italic" font-size="9.4" fill="#111" stroke="#111" stroke-width="0.12">Srd5a2</text>
<line x1="45.5" y1="59.55" x2="52.5" y2="59.55" stroke="#000" stroke-width="2.6"/>
<text transform="translate(43.0,63.65) scale(0.9,1)" text-anchor="end" font-style="italic" font-size="9.4" fill="#111" stroke="#111" stroke-width="0.12">Col5a3</text>
<line x1="45.5" y1="68.22" x2="52.5" y2="68.22" stroke="#000" stroke-width="2.6"/>
<text transform="translate(43.0,72.32) scale(0.9,1)" text-anchor="end" font-style="italic" font-size="9.4" fill="#111" stroke="#111" stroke-width="0.12">Rbp1</text>
<line x1="45.5" y1="76.89" x2="52.5" y2="76.89" stroke="#000" stroke-width="2.6"/>
<text transform="translate(43.0,80.99) scale(0.9,1)" text-anchor="end" font-style="italic" font-size="9.4" fill="#111" stroke="#111" stroke-width="0.12">Lcn2</text>
<line x1="45.5" y1="85.57" x2="52.5" y2="85.57" stroke="#000" stroke-width="2.6"/>
<text transform="translate(43.0,89.67) scale(0.9,1)" text-anchor="end" font-style="italic" font-size="9.4" fill="#111" stroke="#111" stroke-width="0.12">Lpl</text>
<line x1="45.5" y1="94.24" x2="52.5" y2="94.24" stroke="#000" stroke-width="2.6"/>
<text transform="translate(43.0,98.34) scale(0.9,1)" text-anchor="end" font-style="italic" font-size="9.4" fill="#111" stroke="#111" stroke-width="0.12">Cd38</text>
<line x1="45.5" y1="102.91" x2="52.5" y2="102.91" stroke="#000" stroke-width="2.6"/>
<text transform="translate(43.0,107.01) scale(0.9,1)" text-anchor="end" font-style="italic" font-size="9.4" fill="#111" stroke="#111" stroke-width="0.12">Cxcl14</text>
<line x1="45.5" y1="111.58" x2="52.5" y2="111.58" stroke="#000" stroke-width="2.6"/>
<text transform="translate(43.0,115.68) scale(0.9,1)" text-anchor="end" font-style="italic" font-size="9.4" fill="#111" stroke="#111" stroke-width="0.12">Ifi27l2b</text>
<line x1="45.5" y1="120.25" x2="52.5" y2="120.25" stroke="#000" stroke-width="2.6"/>
<text transform="translate(43.0,124.35) scale(0.9,1)" text-anchor="end" font-style="italic" font-size="9.4" fill="#111" stroke="#111" stroke-width="0.12">Fgl1</text>
<line x1="45.5" y1="128.93" x2="52.5" y2="128.93" stroke="#000" stroke-width="2.6"/>
<text transform="translate(43.0,133.03) scale(0.9,1)" text-anchor="end" font-style="italic" font-size="9.4" fill="#111" stroke="#111" stroke-width="0.12">Atp11a</text>
<line x1="45.5" y1="137.60" x2="52.5" y2="137.60" stroke="#000" stroke-width="2.6"/>
<text transform="translate(43.0,141.70) scale(0.9,1)" text-anchor="end" font-style="italic" font-size="9.4" fill="#111" stroke="#111" stroke-width="0.12">Slc1a4</text>
<line x1="45.5" y1="146.27" x2="52.5" y2="146.27" stroke="#000" stroke-width="2.6"/>
<text transform="translate(43.0,150.37) scale(0.9,1)" text-anchor="end" font-style="italic" font-size="9.4" fill="#111" stroke="#111" stroke-width="0.12">Fkbp11</text>
<line x1="45.5" y1="154.94" x2="52.5" y2="154.94" stroke="#000" stroke-width="2.6"/>
<text transform="translate(43.0,159.04) scale(0.9,1)" text-anchor="end" font-style="italic" font-size="9.4" fill="#111" stroke="#111" stroke-width="0.12">Spp1</text>
<line x1="45.5" y1="163.61" x2="52.5" y2="163.61" stroke="#000" stroke-width="2.6"/>
<text transform="translate(43.0,167.71) scale(0.9,1)" text-anchor="end" font-style="italic" font-size="9.4" fill="#111" stroke="#111" stroke-width="0.12">Trim30d</text>
<line x1="45.5" y1="172.28" x2="52.5" y2="172.28" stroke="#000" stroke-width="2.6"/>
<text transform="translate(43.0,176.38) scale(0.9,1)" text-anchor="end" font-style="italic" font-size="9.4" fill="#111" stroke="#111" stroke-width="0.12">Cdkn1a</text>
<line x1="45.5" y1="180.96" x2="52.5" y2="180.96" stroke="#000" stroke-width="2.6"/>
<text transform="translate(43.0,185.06) scale(0.9,1)" text-anchor="end" font-style="italic" font-size="9.4" fill="#111" stroke="#111" stroke-width="0.12">Hells</text>
<line x1="45.5" y1="189.63" x2="52.5" y2="189.63" stroke="#000" stroke-width="2.6"/>
<text transform="translate(43.0,193.73) scale(0.9,1)" text-anchor="end" font-style="italic" font-size="9.4" fill="#111" stroke="#111" stroke-width="0.12">Pck1</text>
<line x1="45.5" y1="198.30" x2="52.5" y2="198.30" stroke="#000" stroke-width="2.6"/>
<text transform="translate(43.0,202.40) scale(0.9,1)" text-anchor="end" font-style="italic" font-size="9.4" fill="#111" stroke="#111" stroke-width="0.12">Enpp2</text>
<line x1="45.5" y1="206.97" x2="52.5" y2="206.97" stroke="#000" stroke-width="2.6"/>
<text transform="translate(43.0,211.07) scale(0.9,1)" text-anchor="end" font-style="italic" font-size="9.4" fill="#111" stroke="#111" stroke-width="0.12">Vtcn1</text>
<line x1="45.5" y1="215.64" x2="52.5" y2="215.64" stroke="#000" stroke-width="2.6"/>
<text transform="translate(43.0,219.74) scale(0.9,1)" text-anchor="end" font-style="italic" font-size="9.4" fill="#111" stroke="#111" stroke-width="0.12">E2f2</text>
<line x1="45.5" y1="224.31" x2="52.5" y2="224.31" stroke="#000" stroke-width="2.6"/>
<text transform="translate(43.0,228.41) scale(0.9,1)" text-anchor="end" font-style="italic" font-size="9.4" fill="#111" stroke="#111" stroke-width="0.12">Setd7</text>
<line x1="45.5" y1="232.99" x2="52.5" y2="232.99" stroke="#000" stroke-width="2.6"/>
<text transform="translate(43.0,237.09) scale(0.9,1)" text-anchor="end" font-style="italic" font-size="9.4" fill="#111" stroke="#111" stroke-width="0.12">Smyd1</text>
<line x1="45.5" y1="241.66" x2="52.5" y2="241.66" stroke="#000" stroke-width="2.6"/>
<text transform="translate(43.0,245.76) scale(0.9,1)" text-anchor="end" font-style="italic" font-size="9.4" fill="#111" stroke="#111" stroke-width="0.12">Cyp4f16</text>
<line x1="45.5" y1="250.33" x2="52.5" y2="250.33" stroke="#000" stroke-width="2.6"/>
<text transform="translate(43.0,254.43) scale(0.9,1)" text-anchor="end" font-style="italic" font-size="9.4" fill="#111" stroke="#111" stroke-width="0.12">Reep5</text>
<line x1="45.5" y1="259.00" x2="52.5" y2="259.00" stroke="#000" stroke-width="2.6"/>
<text transform="translate(43.0,263.10) scale(0.9,1)" text-anchor="end" font-style="italic" font-size="9.4" fill="#111" stroke="#111" stroke-width="0.12">Enho</text>
<line x1="45.5" y1="267.67" x2="52.5" y2="267.67" stroke="#000" stroke-width="2.6"/>
<text transform="translate(43.0,271.77) scale(0.9,1)" text-anchor="end" font-style="italic" font-size="9.4" fill="#111" stroke="#111" stroke-width="0.12">Cyp7b1</text>
<line x1="45.5" y1="276.34" x2="52.5" y2="276.34" stroke="#000" stroke-width="2.6"/>
<text transform="translate(43.0,280.44) scale(0.9,1)" text-anchor="end" font-style="italic" font-size="9.4" fill="#111" stroke="#111" stroke-width="0.12">Nox4</text>
<line x1="45.5" y1="285.02" x2="52.5" y2="285.02" stroke="#000" stroke-width="2.6"/>
<text transform="translate(43.0,289.12) scale(0.9,1)" text-anchor="end" font-style="italic" font-size="9.4" fill="#111" stroke="#111" stroke-width="0.12">H2-Q7</text>
<line x1="45.5" y1="293.69" x2="52.5" y2="293.69" stroke="#000" stroke-width="2.6"/>
<text transform="translate(43.0,297.79) scale(0.9,1)" text-anchor="end" font-style="italic" font-size="9.4" fill="#111" stroke="#111" stroke-width="0.12">BC089597</text>
<line x1="45.5" y1="302.36" x2="52.5" y2="302.36" stroke="#000" stroke-width="2.6"/>
<text transform="translate(43.0,306.46) scale(0.9,1)" text-anchor="end" font-style="italic" font-size="9.4" fill="#111" stroke="#111" stroke-width="0.12">Tgfbr2</text>
<line x1="45.5" y1="311.03" x2="52.5" y2="311.03" stroke="#000" stroke-width="2.6"/>
<text transform="translate(43.0,315.13) scale(0.9,1)" text-anchor="end" font-style="italic" font-size="9.4" fill="#111" stroke="#111" stroke-width="0.12">Prep</text>
<line x1="45.5" y1="319.70" x2="52.5" y2="319.70" stroke="#000" stroke-width="2.6"/>
<text transform="translate(43.0,323.80) scale(0.9,1)" text-anchor="end" font-style="italic" font-size="9.4" fill="#111" stroke="#111" stroke-width="0.12">Pzp</text>
<line x1="45.5" y1="328.38" x2="52.5" y2="328.38" stroke="#000" stroke-width="2.6"/>
<text transform="translate(43.0,332.48) scale(0.9,1)" text-anchor="end" font-style="italic" font-size="9.4" fill="#111" stroke="#111" stroke-width="0.12">Col4a2</text>
<line x1="45.5" y1="337.05" x2="52.5" y2="337.05" stroke="#000" stroke-width="2.6"/>
<text transform="translate(43.0,341.15) scale(0.9,1)" text-anchor="end" font-style="italic" font-size="9.4" fill="#111" stroke="#111" stroke-width="0.12">Ahsg</text>
<line x1="45.5" y1="345.72" x2="52.5" y2="345.72" stroke="#000" stroke-width="2.6"/>
<text transform="translate(43.0,349.82) scale(0.9,1)" text-anchor="end" font-style="italic" font-size="9.4" fill="#111" stroke="#111" stroke-width="0.12">Cfh</text>
<line x1="45.5" y1="354.39" x2="52.5" y2="354.39" stroke="#000" stroke-width="2.6"/>
<text transform="translate(43.0,358.49) scale(0.9,1)" text-anchor="end" font-style="italic" font-size="9.4" fill="#111" stroke="#111" stroke-width="0.12">Egfr</text>
<line x1="45.5" y1="363.06" x2="52.5" y2="363.06" stroke="#000" stroke-width="2.6"/>
<text transform="translate(43.0,367.16) scale(0.9,1)" text-anchor="end" font-style="italic" font-size="9.4" fill="#111" stroke="#111" stroke-width="0.12">Fn1</text>
<line x1="45.5" y1="371.73" x2="52.5" y2="371.73" stroke="#000" stroke-width="2.6"/>
<text transform="translate(43.0,375.83) scale(0.9,1)" text-anchor="end" font-style="italic" font-size="9.4" fill="#111" stroke="#111" stroke-width="0.12">Serping1</text>
<line x1="45.5" y1="380.41" x2="52.5" y2="380.41" stroke="#000" stroke-width="2.6"/>
<text transform="translate(43.0,384.51) scale(0.9,1)" text-anchor="end" font-style="italic" font-size="9.4" fill="#111" stroke="#111" stroke-width="0.12">Plbd1</text>
<line x1="45.5" y1="389.08" x2="52.5" y2="389.08" stroke="#000" stroke-width="2.6"/>
<text transform="translate(43.0,393.18) scale(0.9,1)" text-anchor="end" font-style="italic" font-size="9.4" fill="#111" stroke="#111" stroke-width="0.12">Dnajc3</text>
<line x1="45.5" y1="397.75" x2="52.5" y2="397.75" stroke="#000" stroke-width="2.6"/>
<text transform="translate(43.0,401.85) scale(0.9,1)" text-anchor="end" font-style="italic" font-size="9.4" fill="#111" stroke="#111" stroke-width="0.12">Cyp51</text>
<line x1="45.5" y1="406.42" x2="52.5" y2="406.42" stroke="#000" stroke-width="2.6"/>
<text transform="translate(43.0,410.52) scale(0.9,1)" text-anchor="end" font-style="italic" font-size="9.4" fill="#111" stroke="#111" stroke-width="0.12">Abca1</text>
<line x1="45.5" y1="415.09" x2="52.5" y2="415.09" stroke="#000" stroke-width="2.6"/>
<text transform="translate(43.0,419.19) scale(0.9,1)" text-anchor="end" font-style="italic" font-size="9.4" fill="#111" stroke="#111" stroke-width="0.12">Agt</text>
<line x1="45.5" y1="423.76" x2="52.5" y2="423.76" stroke="#000" stroke-width="2.6"/>
<text transform="translate(43.0,427.86) scale(0.9,1)" text-anchor="end" font-style="italic" font-size="9.4" fill="#111" stroke="#111" stroke-width="0.12">Adipor2</text>
<line x1="65.66" y1="428.9" x2="65.66" y2="435.8" stroke="#000" stroke-width="2.8"/>
<line x1="91.97" y1="428.9" x2="91.97" y2="435.8" stroke="#000" stroke-width="2.8"/>
<line x1="118.28" y1="428.9" x2="118.28" y2="435.8" stroke="#000" stroke-width="2.8"/>
<line x1="144.59" y1="428.9" x2="144.59" y2="435.8" stroke="#000" stroke-width="2.8"/>
<line x1="170.91" y1="428.9" x2="170.91" y2="435.8" stroke="#000" stroke-width="2.8"/>
<line x1="197.22" y1="428.9" x2="197.22" y2="435.8" stroke="#000" stroke-width="2.8"/>
<line x1="223.53" y1="428.9" x2="223.53" y2="435.8" stroke="#000" stroke-width="2.8"/>
<line x1="249.84" y1="428.9" x2="249.84" y2="435.8" stroke="#000" stroke-width="2.8"/>
<rect x="387.40" y="28.50" width="27.21" height="25.96" fill="#b6d4fc"/>
<rect x="413.61" y="28.50" width="27.21" height="25.96" fill="#d5e6fd"/>
<rect x="439.82" y="28.50" width="27.21" height="25.96" fill="#aed0fc"/>
<rect x="466.04" y="28.50" width="27.21" height="25.96" fill="#a3c9fb"/>
<rect x="492.25" y="28.50" width="27.21" height="25.96" fill="#ffd7bc"/>
<rect x="518.46" y="28.50" width="27.21" height="25.96" fill="#ffdfc9"/>
<rect x="544.67" y="28.50" width="27.21" height="25.96" fill="#ffb787"/>
<rect x="570.89" y="28.50" width="27.21" height="25.96" fill="#ff6600"/>
<rect x="387.40" y="53.46" width="27.21" height="25.96" fill="#e2eefe"/>
<rect x="413.61" y="53.46" width="27.21" height="25.96" fill="#ecf4fe"/>
<rect x="439.82" y="53.46" width="27.21" height="25.96" fill="#e8f1fe"/>
<rect x="466.04" y="53.46" width="27.21" height="25.96" fill="#ffe7d7"/>
<rect x="492.25" y="53.46" width="27.21" height="25.96" fill="#ff9b59"/>
<rect x="518.46" y="53.46" width="27.21" height="25.96" fill="#ff7e29"/>
<rect x="544.67" y="53.46" width="27.21" height="25.96" fill="#ffc299"/>
<rect x="570.89" y="53.46" width="27.21" height="25.96" fill="#ffd7bc"/>
<rect x="387.40" y="78.42" width="27.21" height="25.96" fill="#6faaf9"/>
<rect x="413.61" y="78.42" width="27.21" height="25.96" fill="#c5ddfd"/>
<rect x="439.82" y="78.42" width="27.21" height="25.96" fill="#aed0fc"/>
<rect x="466.04" y="78.42" width="27.21" height="25.96" fill="#aed0fc"/>
<rect x="492.25" y="78.42" width="27.21" height="25.96" fill="#ff9f5e"/>
<rect x="518.46" y="78.42" width="27.21" height="25.96" fill="#ffbc8f"/>
<rect x="544.67" y="78.42" width="27.21" height="25.96" fill="#ffc299"/>
<rect x="570.89" y="78.42" width="27.21" height="25.96" fill="#ffd7bc"/>
<rect x="387.40" y="103.39" width="27.21" height="25.96" fill="#ecf4fe"/>
<rect x="413.61" y="103.39" width="27.21" height="25.96" fill="#82b6fa"/>
<rect x="439.82" y="103.39" width="27.21" height="25.96" fill="#b6d4fc"/>
<rect x="466.04" y="103.39" width="27.21" height="25.96" fill="#d5e6fd"/>
<rect x="492.25" y="103.39" width="27.21" height="25.96" fill="#ffd7bc"/>
<rect x="518.46" y="103.39" width="27.21" height="25.96" fill="#ffd2b4"/>
<rect x="544.67" y="103.39" width="27.21" height="25.96" fill="#ffc299"/>
<rect x="570.89" y="103.39" width="27.21" height="25.96" fill="#fff9f4"/>
<rect x="387.40" y="128.35" width="27.21" height="25.96" fill="#c5ddfd"/>
<rect x="413.61" y="128.35" width="27.21" height="25.96" fill="#fff7f2"/>
<rect x="439.82" y="128.35" width="27.21" height="25.96" fill="#82b6fa"/>
<rect x="466.04" y="128.35" width="27.21" height="25.96" fill="#9fc7fb"/>
<rect x="492.25" y="128.35" width="27.21" height="25.96" fill="#ff761b"/>
<rect x="518.46" y="128.35" width="27.21" height="25.96" fill="#ffefe4"/>
<rect x="544.67" y="128.35" width="27.21" height="25.96" fill="#ffdfc9"/>
<rect x="570.89" y="128.35" width="27.21" height="25.96" fill="#ffdfc9"/>
<rect x="387.40" y="153.31" width="27.21" height="25.96" fill="#8cbbfa"/>
<rect x="413.61" y="153.31" width="27.21" height="25.96" fill="#a9ccfb"/>
<rect x="439.82" y="153.31" width="27.21" height="25.96" fill="#9bc4fb"/>
<rect x="466.04" y="153.31" width="27.21" height="25.96" fill="#b6d4fc"/>
<rect x="492.25" y="153.31" width="27.21" height="25.96" fill="#fff2ea"/>
<rect x="518.46" y="153.31" width="27.21" height="25.96" fill="#ffe7d7"/>
<rect x="544.67" y="153.31" width="27.21" height="25.96" fill="#fff9f4"/>
<rect x="570.89" y="153.31" width="27.21" height="25.96" fill="#ffc299"/>
<rect x="387.40" y="178.27" width="27.21" height="25.96" fill="#82b6fa"/>
<rect x="413.61" y="178.27" width="27.21" height="25.96" fill="#8cbbfa"/>
<rect x="439.82" y="178.27" width="27.21" height="25.96" fill="#f2f7fe"/>
<rect x="466.04" y="178.27" width="27.21" height="25.96" fill="#fff7f2"/>
<rect x="492.25" y="178.27" width="27.21" height="25.96" fill="#ffdfc9"/>
<rect x="518.46" y="178.27" width="27.21" height="25.96" fill="#ffe2cf"/>
<rect x="544.67" y="178.27" width="27.21" height="25.96" fill="#fffcfa"/>
<rect x="570.89" y="178.27" width="27.21" height="25.96" fill="#ff9751"/>
<rect x="387.40" y="203.24" width="27.21" height="25.96" fill="#ffe2cf"/>
<rect x="413.61" y="203.24" width="27.21" height="25.96" fill="#ffbc8f"/>
<rect x="439.82" y="203.24" width="27.21" height="25.96" fill="#ffe7d7"/>
<rect x="466.04" y="203.24" width="27.21" height="25.96" fill="#ffbc8f"/>
<rect x="492.25" y="203.24" width="27.21" height="25.96" fill="#c5ddfd"/>
<rect x="518.46" y="203.24" width="27.21" height="25.96" fill="#a9ccfb"/>
<rect x="544.67" y="203.24" width="27.21" height="25.96" fill="#9fc7fb"/>
<rect x="570.89" y="203.24" width="27.21" height="25.96" fill="#5c9ff8"/>
<rect x="387.40" y="228.20" width="27.21" height="25.96" fill="#ffffff"/>
<rect x="413.61" y="228.20" width="27.21" height="25.96" fill="#ffb787"/>
<rect x="439.82" y="228.20" width="27.21" height="25.96" fill="#ffc7a1"/>
<rect x="466.04" y="228.20" width="27.21" height="25.96" fill="#ffd2b4"/>
<rect x="492.25" y="228.20" width="27.21" height="25.96" fill="#82b6fa"/>
<rect x="518.46" y="228.20" width="27.21" height="25.96" fill="#8cbbfa"/>
<rect x="544.67" y="228.20" width="27.21" height="25.96" fill="#c5ddfd"/>
<rect x="570.89" y="228.20" width="27.21" height="25.96" fill="#bcd8fc"/>
<rect x="387.40" y="253.16" width="27.21" height="25.96" fill="#ffb787"/>
<rect x="413.61" y="253.16" width="27.21" height="25.96" fill="#ffd7bc"/>
<rect x="439.82" y="253.16" width="27.21" height="25.96" fill="#ffdcc4"/>
<rect x="466.04" y="253.16" width="27.21" height="25.96" fill="#ff9249"/>
<rect x="492.25" y="253.16" width="27.21" height="25.96" fill="#f0f6fe"/>
<rect x="518.46" y="253.16" width="27.21" height="25.96" fill="#cfe3fd"/>
<rect x="544.67" y="253.16" width="27.21" height="25.96" fill="#c9dffd"/>
<rect x="570.89" y="253.16" width="27.21" height="25.96" fill="#b2d2fc"/>
<rect x="387.40" y="278.12" width="27.21" height="25.96" fill="#fffdfc"/>
<rect x="413.61" y="278.12" width="27.21" height="25.96" fill="#ffe2cf"/>
<rect x="439.82" y="278.12" width="27.21" height="25.96" fill="#ffd7bc"/>
<rect x="466.04" y="278.12" width="27.21" height="25.96" fill="#ffbc8f"/>
<rect x="492.25" y="278.12" width="27.21" height="25.96" fill="#9fc7fb"/>
<rect x="518.46" y="278.12" width="27.21" height="25.96" fill="#ecf4fe"/>
<rect x="544.67" y="278.12" width="27.21" height="25.96" fill="#c9dffd"/>
<rect x="570.89" y="278.12" width="27.21" height="25.96" fill="#82b6fa"/>
<rect x="387.40" y="303.09" width="27.21" height="25.96" fill="#cfe3fd"/>
<rect x="413.61" y="303.09" width="27.21" height="25.96" fill="#ffaf79"/>
<rect x="439.82" y="303.09" width="27.21" height="25.96" fill="#ffd7bc"/>
<rect x="466.04" y="303.09" width="27.21" height="25.96" fill="#ff761b"/>
<rect x="492.25" y="303.09" width="27.21" height="25.96" fill="#9fc7fb"/>
<rect x="518.46" y="303.09" width="27.21" height="25.96" fill="#d9e8fd"/>
<rect x="544.67" y="303.09" width="27.21" height="25.96" fill="#9fc7fb"/>
<rect x="570.89" y="303.09" width="27.21" height="25.96" fill="#fbfdff"/>
<rect x="387.40" y="328.05" width="27.21" height="25.96" fill="#c9dffd"/>
<rect x="413.61" y="328.05" width="27.21" height="25.96" fill="#ffa264"/>
<rect x="439.82" y="328.05" width="27.21" height="25.96" fill="#ffefe4"/>
<rect x="466.04" y="328.05" width="27.21" height="25.96" fill="#ffe7d7"/>
<rect x="492.25" y="328.05" width="27.21" height="25.96" fill="#95c1fb"/>
<rect x="518.46" y="328.05" width="27.21" height="25.96" fill="#b2d2fc"/>
<rect x="544.67" y="328.05" width="27.21" height="25.96" fill="#c9dffd"/>
<rect x="570.89" y="328.05" width="27.21" height="25.96" fill="#aed0fc"/>
<rect x="387.40" y="353.01" width="27.21" height="25.96" fill="#ffd7bc"/>
<rect x="413.61" y="353.01" width="27.21" height="25.96" fill="#ffe7d7"/>
<rect x="439.82" y="353.01" width="27.21" height="25.96" fill="#ffcfaf"/>
<rect x="466.04" y="353.01" width="27.21" height="25.96" fill="#ffcca9"/>
<rect x="492.25" y="353.01" width="27.21" height="25.96" fill="#aed0fc"/>
<rect x="518.46" y="353.01" width="27.21" height="25.96" fill="#bcd8fc"/>
<rect x="544.67" y="353.01" width="27.21" height="25.96" fill="#b6d4fc"/>
<rect x="570.89" y="353.01" width="27.21" height="25.96" fill="#8cbbfa"/>
<rect x="387.40" y="377.97" width="27.21" height="25.96" fill="#f5f9ff"/>
<rect x="413.61" y="377.97" width="27.21" height="25.96" fill="#ff9f5e"/>
<rect x="439.82" y="377.97" width="27.21" height="25.96" fill="#ffeadc"/>
<rect x="466.04" y="377.97" width="27.21" height="25.96" fill="#ffc299"/>
<rect x="492.25" y="377.97" width="27.21" height="25.96" fill="#5c9ff8"/>
<rect x="518.46" y="377.97" width="27.21" height="25.96" fill="#a9ccfb"/>
<rect x="544.67" y="377.97" width="27.21" height="25.96" fill="#a3c9fb"/>
<rect x="570.89" y="377.97" width="27.21" height="25.96" fill="#9fc7fb"/>
<rect x="387.40" y="402.94" width="27.21" height="25.96" fill="#ffe7d7"/>
<rect x="413.61" y="402.94" width="27.21" height="25.96" fill="#ffc7a1"/>
<rect x="439.82" y="402.94" width="27.21" height="25.96" fill="#ffd2b4"/>
<rect x="466.04" y="402.94" width="27.21" height="25.96" fill="#ff8b3e"/>
<rect x="492.25" y="402.94" width="27.21" height="25.96" fill="#bcd8fc"/>
<rect x="518.46" y="402.94" width="27.21" height="25.96" fill="#e2eefe"/>
<rect x="544.67" y="402.94" width="27.21" height="25.96" fill="#c9dffd"/>
<rect x="570.89" y="402.94" width="27.21" height="25.96" fill="#a9ccfb"/>
<line x1="492.8" y1="28.5" x2="492.8" y2="427.9" stroke="#000" stroke-width="2.5"/>
<line x1="387.4" y1="202.30" x2="597.1" y2="202.30" stroke="#000" stroke-width="2.2"/>
<rect x="387.4" y="28.5" width="209.70000000000005" height="399.4" fill="none" stroke="#000" stroke-width="2.7"/>
<line x1="380.5" y1="40.98" x2="387.4" y2="40.98" stroke="#000" stroke-width="2.6"/>
<text transform="translate(378.6,44.68) scale(0.9,1)" text-anchor="end" font-style="italic" font-size="9.5" fill="#111" stroke="#111" stroke-width="0.12">Lpl</text>
<line x1="380.5" y1="65.94" x2="387.4" y2="65.94" stroke="#000" stroke-width="2.6"/>
<text transform="translate(378.6,69.64) scale(0.9,1)" text-anchor="end" font-style="italic" font-size="9.5" fill="#111" stroke="#111" stroke-width="0.12">Hspa5</text>
<line x1="380.5" y1="90.91" x2="387.4" y2="90.91" stroke="#000" stroke-width="2.6"/>
<text transform="translate(378.6,94.61) scale(0.9,1)" text-anchor="end" font-style="italic" font-size="9.5" fill="#111" stroke="#111" stroke-width="0.12">Hexa</text>
<line x1="380.5" y1="115.87" x2="387.4" y2="115.87" stroke="#000" stroke-width="2.6"/>
<text transform="translate(378.6,119.57) scale(0.9,1)" text-anchor="end" font-style="italic" font-size="9.5" fill="#111" stroke="#111" stroke-width="0.12">Pck1</text>
<line x1="380.5" y1="140.83" x2="387.4" y2="140.83" stroke="#000" stroke-width="2.6"/>
<text transform="translate(378.6,144.53) scale(0.9,1)" text-anchor="end" font-style="italic" font-size="9.5" fill="#111" stroke="#111" stroke-width="0.12">Adrb3</text>
<line x1="380.5" y1="165.79" x2="387.4" y2="165.79" stroke="#000" stroke-width="2.6"/>
<text transform="translate(378.6,169.49) scale(0.9,1)" text-anchor="end" font-style="italic" font-size="9.5" fill="#111" stroke="#111" stroke-width="0.12">Apoa1</text>
<line x1="380.5" y1="190.76" x2="387.4" y2="190.76" stroke="#000" stroke-width="2.6"/>
<text transform="translate(378.6,194.46) scale(0.9,1)" text-anchor="end" font-style="italic" font-size="9.5" fill="#111" stroke="#111" stroke-width="0.12">Abca1</text>
<line x1="380.5" y1="215.72" x2="387.4" y2="215.72" stroke="#000" stroke-width="2.6"/>
<text transform="translate(378.6,219.42) scale(0.9,1)" text-anchor="end" font-style="italic" font-size="9.5" fill="#111" stroke="#111" stroke-width="0.12">Idh1</text>
<line x1="380.5" y1="240.68" x2="387.4" y2="240.68" stroke="#000" stroke-width="2.6"/>
<text transform="translate(378.6,244.38) scale(0.9,1)" text-anchor="end" font-style="italic" font-size="9.5" fill="#111" stroke="#111" stroke-width="0.12">Acat1</text>
<line x1="380.5" y1="265.64" x2="387.4" y2="265.64" stroke="#000" stroke-width="2.6"/>
<text transform="translate(378.6,269.34) scale(0.9,1)" text-anchor="end" font-style="italic" font-size="9.5" fill="#111" stroke="#111" stroke-width="0.12">Gnmt</text>
<line x1="380.5" y1="290.61" x2="387.4" y2="290.61" stroke="#000" stroke-width="2.6"/>
<text transform="translate(378.6,294.31) scale(0.9,1)" text-anchor="end" font-style="italic" font-size="9.5" fill="#111" stroke="#111" stroke-width="0.12">Arsa</text>
<line x1="380.5" y1="315.57" x2="387.4" y2="315.57" stroke="#000" stroke-width="2.6"/>
<text transform="translate(378.6,319.27) scale(0.9,1)" text-anchor="end" font-style="italic" font-size="9.5" fill="#111" stroke="#111" stroke-width="0.12">Fasn</text>
<line x1="380.5" y1="340.53" x2="387.4" y2="340.53" stroke="#000" stroke-width="2.6"/>
<text transform="translate(378.6,344.23) scale(0.9,1)" text-anchor="end" font-style="italic" font-size="9.5" fill="#111" stroke="#111" stroke-width="0.12">Pltp</text>
<line x1="380.5" y1="365.49" x2="387.4" y2="365.49" stroke="#000" stroke-width="2.6"/>
<text transform="translate(378.6,369.19) scale(0.9,1)" text-anchor="end" font-style="italic" font-size="9.5" fill="#111" stroke="#111" stroke-width="0.12">Cd36</text>
<line x1="380.5" y1="390.46" x2="387.4" y2="390.46" stroke="#000" stroke-width="2.6"/>
<text transform="translate(378.6,394.16) scale(0.9,1)" text-anchor="end" font-style="italic" font-size="9.5" fill="#111" stroke="#111" stroke-width="0.12">Scd1</text>
<line x1="380.5" y1="415.42" x2="387.4" y2="415.42" stroke="#000" stroke-width="2.6"/>
<text transform="translate(378.6,419.12) scale(0.9,1)" text-anchor="end" font-style="italic" font-size="9.5" fill="#111" stroke="#111" stroke-width="0.12">Pparg</text>
<line x1="400.51" y1="427.9" x2="400.51" y2="434.6" stroke="#000" stroke-width="2.8"/>
<line x1="426.72" y1="427.9" x2="426.72" y2="434.6" stroke="#000" stroke-width="2.8"/>
<line x1="452.93" y1="427.9" x2="452.93" y2="434.6" stroke="#000" stroke-width="2.8"/>
<line x1="479.14" y1="427.9" x2="479.14" y2="434.6" stroke="#000" stroke-width="2.8"/>
<line x1="505.36" y1="427.9" x2="505.36" y2="434.6" stroke="#000" stroke-width="2.8"/>
<line x1="531.57" y1="427.9" x2="531.57" y2="434.6" stroke="#000" stroke-width="2.8"/>
<line x1="557.78" y1="427.9" x2="557.78" y2="434.6" stroke="#000" stroke-width="2.8"/>
<line x1="583.99" y1="427.9" x2="583.99" y2="434.6" stroke="#000" stroke-width="2.8"/>
<line x1="52" y1="445.1" x2="149.4" y2="445.1" stroke="#444" stroke-width="1.3"/>
<line x1="160.3" y1="445.1" x2="257.8" y2="445.1" stroke="#444" stroke-width="1.3"/>
<text x="96.7" y="467" text-anchor="middle" font-size="14.5" fill="#111">WT</text>
<text x="207" y="467" text-anchor="middle" font-size="14.5" font-style="italic" fill="#111">mdx</text>
<line x1="390.0" y1="444.9" x2="487.5" y2="444.9" stroke="#444" stroke-width="1.3"/>
<line x1="498.1" y1="444.9" x2="595.8" y2="444.9" stroke="#444" stroke-width="1.3"/>
<text x="434.3" y="467.0" text-anchor="middle" font-size="14.5" fill="#111">WT</text>
<text x="544.8" y="467.0" text-anchor="middle" font-size="14.5" font-style="italic" fill="#111">mdx</text>
<rect x="289.3" y="29.8" width="26.5" height="398.7" fill="url(#cbA)" stroke="#000" stroke-width="2.2"/>
<line x1="289.3" y1="34.3" x2="293.3" y2="34.3" stroke="#000" stroke-width="2"/>
<line x1="311.8" y1="34.3" x2="315.8" y2="34.3" stroke="#000" stroke-width="2"/>
<text x="325.2" y="38.3" font-size="11.5" fill="#222">3</text>
<line x1="289.3" y1="119.4" x2="293.3" y2="119.4" stroke="#000" stroke-width="2"/>
<line x1="311.8" y1="119.4" x2="315.8" y2="119.4" stroke="#000" stroke-width="2"/>
<text x="325.2" y="123.4" font-size="11.5" fill="#222">2</text>
<line x1="289.3" y1="203.7" x2="293.3" y2="203.7" stroke="#000" stroke-width="2"/>
<line x1="311.8" y1="203.7" x2="315.8" y2="203.7" stroke="#000" stroke-width="2"/>
<text x="325.2" y="207.7" font-size="11.5" fill="#222">1</text>
<line x1="289.3" y1="288.1" x2="293.3" y2="288.1" stroke="#000" stroke-width="2"/>
<line x1="311.8" y1="288.1" x2="315.8" y2="288.1" stroke="#000" stroke-width="2"/>
<text x="325.2" y="292.1" font-size="11.5" fill="#222">0</text>
<line x1="289.3" y1="373" x2="293.3" y2="373" stroke="#000" stroke-width="2"/>
<line x1="311.8" y1="373" x2="315.8" y2="373" stroke="#000" stroke-width="2"/>
<text x="325.2" y="377.0" font-size="11.5" fill="#222">-1</text>
<rect x="624.1" y="28.5" width="26.0" height="399.1" fill="url(#cbB)" stroke="#000" stroke-width="2.2"/>
<line x1="624.1" y1="86" x2="628.1" y2="86" stroke="#000" stroke-width="2"/>
<line x1="646.1" y1="86" x2="650.1" y2="86" stroke="#000" stroke-width="2"/>
<text x="660" y="90.0" font-size="11.5" fill="#222">2</text>
<line x1="624.1" y1="172.3" x2="628.1" y2="172.3" stroke="#000" stroke-width="2"/>
<line x1="646.1" y1="172.3" x2="650.1" y2="172.3" stroke="#000" stroke-width="2"/>
<text x="660" y="176.3" font-size="11.5" fill="#222">1</text>
<line x1="624.1" y1="258.6" x2="628.1" y2="258.6" stroke="#000" stroke-width="2"/>
<line x1="646.1" y1="258.6" x2="650.1" y2="258.6" stroke="#000" stroke-width="2"/>
<text x="660" y="262.6" font-size="11.5" fill="#222">0</text>
<line x1="624.1" y1="344.5" x2="628.1" y2="344.5" stroke="#000" stroke-width="2"/>
<line x1="646.1" y1="344.5" x2="650.1" y2="344.5" stroke="#000" stroke-width="2"/>
<text x="660" y="348.5" font-size="11.5" fill="#222">-1</text>
<text x="204.2" y="531.7" font-size="11.6" textLength="49.5" lengthAdjust="spacingAndGlyphs" fill="#111" stroke="#111" stroke-width="0.18">miR-1-3p</text>
<text x="211.2" y="547.8" font-size="12" textLength="33.8" lengthAdjust="spacingAndGlyphs" fill="#111" stroke="#111" stroke-width="0.18">serum</text>
<text transform="translate(164.2,639.5) rotate(-90)" font-size="12" fill="#111">2<tspan font-size="8" dy="-6.6">-ΔCt</tspan></text>
<circle cx="201.60" cy="694" r="2.75" fill="#000"/>
<circle cx="203.40" cy="694" r="2.75" fill="#000"/>
<circle cx="205.10" cy="694" r="2.75" fill="#000"/>
<circle cx="206.90" cy="694" r="2.75" fill="#000"/>
<circle cx="208.70" cy="694" r="2.75" fill="#000"/>
<circle cx="210.40" cy="694" r="2.75" fill="#000"/>
<path d="M194.7 565.6V694.0H263.7" fill="none" stroke="#000" stroke-width="1.35"/>
<line x1="191.2" y1="565.6" x2="194.7" y2="565.6" stroke="#000" stroke-width="1.4"/>
<text transform="translate(189.4,569.50) scale(0.94,1)" text-anchor="end" font-size="10.2" fill="#111" stroke="#111" stroke-width="0.12">0.20</text>
<line x1="191.2" y1="597.7" x2="194.7" y2="597.7" stroke="#000" stroke-width="1.4"/>
<text transform="translate(189.4,601.60) scale(0.94,1)" text-anchor="end" font-size="10.2" fill="#111" stroke="#111" stroke-width="0.12">0.15</text>
<line x1="191.2" y1="629.8" x2="194.7" y2="629.8" stroke="#000" stroke-width="1.4"/>
<text transform="translate(189.4,633.70) scale(0.94,1)" text-anchor="end" font-size="10.2" fill="#111" stroke="#111" stroke-width="0.12">0.10</text>
<line x1="191.2" y1="661.9" x2="194.7" y2="661.9" stroke="#000" stroke-width="1.4"/>
<text transform="translate(189.4,665.80) scale(0.94,1)" text-anchor="end" font-size="10.2" fill="#111" stroke="#111" stroke-width="0.12">0.05</text>
<line x1="191.2" y1="694.0" x2="194.7" y2="694.0" stroke="#000" stroke-width="1.4"/>
<text transform="translate(189.4,697.90) scale(0.94,1)" text-anchor="end" font-size="10.2" fill="#111" stroke="#111" stroke-width="0.12">0.00</text>
<line x1="205.40" y1="694.0" x2="205.40" y2="697.6" stroke="#000" stroke-width="1.4"/>
<line x1="228.50" y1="694.0" x2="228.50" y2="697.6" stroke="#000" stroke-width="1.4"/>
<line x1="251.60" y1="694.0" x2="251.60" y2="697.6" stroke="#000" stroke-width="1.4"/>
<path d="M225.90 599.95L231.90 599.95L228.90 594.65Z" fill="#ff0000"/>
<path d="M231.30 598.65L237.30 598.65L234.30 593.35Z" fill="#ff0000"/>
<path d="M231.10 616.25L237.10 616.25L234.10 610.95Z" fill="#ff0000"/>
<path d="M225.70 618.65L231.70 618.65L228.70 613.35Z" fill="#ff0000"/>
<path d="M226.00 636.35L232.00 636.35L229.00 631.05Z" fill="#ff0000"/>
<path d="M226.10 672.45L232.10 672.45L229.10 667.15Z" fill="#ff0000"/>
<line x1="228.7" y1="609.2" x2="228.7" y2="631.5" stroke="#ff0000" stroke-width="1"/>
<line x1="225.0" y1="609.2" x2="232.39999999999998" y2="609.2" stroke="#ff0000" stroke-width="1.1"/>
<line x1="225.0" y1="631.5" x2="232.39999999999998" y2="631.5" stroke="#ff0000" stroke-width="1.1"/>
<line x1="220.89999999999998" y1="620.6" x2="236.5" y2="620.6" stroke="#ff0000" stroke-width="1.7"/>
<path d="M249.00 637.35L255.00 637.35L252.00 642.65Z" fill="#0000ff"/>
<path d="M254.10 637.35L260.10 637.35L257.10 642.65Z" fill="#0000ff"/>
<path d="M249.10 665.95L255.10 665.95L252.10 671.25Z" fill="#0000ff"/>
<path d="M249.00 679.95L255.00 679.95L252.00 685.25Z" fill="#0000ff"/>
<path d="M249.00 690.75L255.00 690.75L252.00 696.05Z" fill="#0000ff"/>
<line x1="252.0" y1="654.4" x2="252.0" y2="676.3" stroke="#0000ff" stroke-width="1"/>
<line x1="248.2" y1="654.4" x2="255.8" y2="654.4" stroke="#0000ff" stroke-width="1.1"/>
<line x1="248.2" y1="676.3" x2="255.8" y2="676.3" stroke="#0000ff" stroke-width="1.1"/>
<line x1="244.35" y1="665.2" x2="259.65" y2="665.2" stroke="#0000ff" stroke-width="1.7"/>
<line x1="201.8" y1="576.5" x2="227.7" y2="576.5" stroke="#555" stroke-width="1.1"/>
<path d="M205.40 566.40L205.40 570.80M203.49 567.50L207.31 569.70M207.31 567.50L203.49 569.70" stroke="#111" stroke-width="1.15" stroke-linecap="round"/>
<circle cx="205.40" cy="568.6" r="1.1" fill="#111"/>
<path d="M211.82 566.40L211.82 570.80M209.91 567.50L213.73 569.70M213.73 567.50L209.91 569.70" stroke="#111" stroke-width="1.15" stroke-linecap="round"/>
<circle cx="211.82" cy="568.6" r="1.1" fill="#111"/>
<path d="M218.24 566.40L218.24 570.80M216.33 567.50L220.15 569.70M220.15 567.50L216.33 569.70" stroke="#111" stroke-width="1.15" stroke-linecap="round"/>
<circle cx="218.24" cy="568.6" r="1.1" fill="#111"/>
<path d="M224.66 566.40L224.66 570.80M222.75 567.50L226.57 569.70M226.57 567.50L222.75 569.70" stroke="#111" stroke-width="1.15" stroke-linecap="round"/>
<circle cx="224.66" cy="568.6" r="1.1" fill="#111"/>
<line x1="234.9" y1="576.5" x2="260.7" y2="576.5" stroke="#555" stroke-width="1.1"/>
<path d="M244.50 566.40L244.50 570.80M242.59 567.50L246.41 569.70M246.41 567.50L242.59 569.70" stroke="#111" stroke-width="1.15" stroke-linecap="round"/>
<circle cx="244.50" cy="568.6" r="1.1" fill="#111"/>
<path d="M250.92 566.40L250.92 570.80M249.01 567.50L252.83 569.70M252.83 567.50L249.01 569.70" stroke="#111" stroke-width="1.15" stroke-linecap="round"/>
<circle cx="250.92" cy="568.6" r="1.1" fill="#111"/>
<text transform="translate(208.60,706.50) rotate(-45)" text-anchor="end" font-size="10.6" fill="#111">WT</text>
<text transform="translate(231.70,706.50) rotate(-45)" text-anchor="end" font-size="10.6" fill="#111"><tspan font-style="italic">mdx</tspan></text>
<text transform="translate(252.80,705.00) rotate(-45)" text-anchor="end" font-size="10.6" fill="#111"><tspan font-style="italic">mdx</tspan>/miR-378<tspan font-size="6.5" dy="-3.5">-/-</tspan></text>
<text x="328.2" y="531.7" font-size="11.6" textLength="61.4" lengthAdjust="spacingAndGlyphs" fill="#111" stroke="#111" stroke-width="0.18">miR-133-3p</text>
<text x="342.4" y="547.8" font-size="12" textLength="32.9" lengthAdjust="spacingAndGlyphs" fill="#111" stroke="#111" stroke-width="0.18">serum</text>
<text transform="translate(299.8,639.5) rotate(-90)" font-size="12" fill="#111">2<tspan font-size="8" dy="-6.6">-ΔCt</tspan></text>
<circle cx="331.60" cy="694" r="2.75" fill="#000"/>
<circle cx="333.40" cy="694" r="2.75" fill="#000"/>
<circle cx="335.10" cy="694" r="2.75" fill="#000"/>
<circle cx="336.90" cy="694" r="2.75" fill="#000"/>
<circle cx="338.70" cy="694" r="2.75" fill="#000"/>
<circle cx="340.40" cy="694" r="2.75" fill="#000"/>
<path d="M324.7 565.6V694.0H393.7" fill="none" stroke="#000" stroke-width="1.35"/>
<line x1="321.2" y1="565.6" x2="324.7" y2="565.6" stroke="#000" stroke-width="1.4"/>
<text transform="translate(319.4,569.50) scale(0.94,1)" text-anchor="end" font-size="10.2" fill="#111" stroke="#111" stroke-width="0.12">1.5</text>
<line x1="321.2" y1="608.4" x2="324.7" y2="608.4" stroke="#000" stroke-width="1.4"/>
<text transform="translate(319.4,612.30) scale(0.94,1)" text-anchor="end" font-size="10.2" fill="#111" stroke="#111" stroke-width="0.12">1.0</text>
<line x1="321.2" y1="651.2" x2="324.7" y2="651.2" stroke="#000" stroke-width="1.4"/>
<text transform="translate(319.4,655.10) scale(0.94,1)" text-anchor="end" font-size="10.2" fill="#111" stroke="#111" stroke-width="0.12">0.5</text>
<line x1="321.2" y1="694.0" x2="324.7" y2="694.0" stroke="#000" stroke-width="1.4"/>
<text transform="translate(319.4,697.90) scale(0.94,1)" text-anchor="end" font-size="10.2" fill="#111" stroke="#111" stroke-width="0.12">0.0</text>
<line x1="335.40" y1="694.0" x2="335.40" y2="697.6" stroke="#000" stroke-width="1.4"/>
<line x1="358.50" y1="694.0" x2="358.50" y2="697.6" stroke="#000" stroke-width="1.4"/>
<line x1="381.60" y1="694.0" x2="381.60" y2="697.6" stroke="#000" stroke-width="1.4"/>
<path d="M355.50 605.75L361.50 605.75L358.50 600.45Z" fill="#ff0000"/>
<path d="M355.50 611.65L361.50 611.65L358.50 606.35Z" fill="#ff0000"/>
<path d="M361.10 642.35L367.10 642.35L364.10 637.05Z" fill="#ff0000"/>
<path d="M355.50 646.55L361.50 646.55L358.50 641.25Z" fill="#ff0000"/>
<path d="M355.50 666.35L361.50 666.35L358.50 661.05Z" fill="#ff0000"/>
<path d="M355.50 671.65L361.50 671.65L358.50 666.35Z" fill="#ff0000"/>
<line x1="358.5" y1="626.8" x2="358.5" y2="648.8" stroke="#ff0000" stroke-width="1"/>
<line x1="354.75" y1="626.8" x2="362.25" y2="626.8" stroke="#ff0000" stroke-width="1.1"/>
<line x1="354.75" y1="648.8" x2="362.25" y2="648.8" stroke="#ff0000" stroke-width="1.1"/>
<line x1="350.85" y1="637.9" x2="366.15" y2="637.9" stroke="#ff0000" stroke-width="1.7"/>
<path d="M378.60 642.95L384.60 642.95L381.60 648.25Z" fill="#0000ff"/>
<path d="M373.80 657.25L379.80 657.25L376.80 662.55Z" fill="#0000ff"/>
<path d="M383.60 659.15L389.60 659.15L386.60 664.45Z" fill="#0000ff"/>
<path d="M378.60 671.95L384.60 671.95L381.60 677.25Z" fill="#0000ff"/>
<path d="M378.60 690.85L384.60 690.85L381.60 696.15Z" fill="#0000ff"/>
<line x1="381.6" y1="659.5" x2="381.6" y2="675.7" stroke="#0000ff" stroke-width="1"/>
<line x1="378.45000000000005" y1="659.5" x2="384.75" y2="659.5" stroke="#0000ff" stroke-width="1.1"/>
<line x1="378.45000000000005" y1="675.7" x2="384.75" y2="675.7" stroke="#0000ff" stroke-width="1.1"/>
<line x1="373.90000000000003" y1="667.3" x2="389.3" y2="667.3" stroke="#0000ff" stroke-width="1.7"/>
<line x1="331.5" y1="576.5" x2="357.8" y2="576.5" stroke="#555" stroke-width="1.1"/>
<path d="M335.30 566.40L335.30 570.80M333.39 567.50L337.21 569.70M337.21 567.50L333.39 569.70" stroke="#111" stroke-width="1.15" stroke-linecap="round"/>
<circle cx="335.30" cy="568.6" r="1.1" fill="#111"/>
<path d="M341.72 566.40L341.72 570.80M339.81 567.50L343.63 569.70M343.63 567.50L339.81 569.70" stroke="#111" stroke-width="1.15" stroke-linecap="round"/>
<circle cx="341.72" cy="568.6" r="1.1" fill="#111"/>
<path d="M348.14 566.40L348.14 570.80M346.23 567.50L350.05 569.70M350.05 567.50L346.23 569.70" stroke="#111" stroke-width="1.15" stroke-linecap="round"/>
<circle cx="348.14" cy="568.6" r="1.1" fill="#111"/>
<path d="M354.56 566.40L354.56 570.80M352.65 567.50L356.47 569.70M356.47 567.50L352.65 569.70" stroke="#111" stroke-width="1.15" stroke-linecap="round"/>
<circle cx="354.56" cy="568.6" r="1.1" fill="#111"/>
<line x1="364.9" y1="576.5" x2="390.8" y2="576.5" stroke="#555" stroke-width="1.1"/>
<path d="M377.75 566.40L377.75 570.80M375.84 567.50L379.66 569.70M379.66 567.50L375.84 569.70" stroke="#111" stroke-width="1.15" stroke-linecap="round"/>
<circle cx="377.75" cy="568.6" r="1.1" fill="#111"/>
<text transform="translate(338.60,706.50) rotate(-45)" text-anchor="end" font-size="10.6" fill="#111">WT</text>
<text transform="translate(361.70,706.50) rotate(-45)" text-anchor="end" font-size="10.6" fill="#111"><tspan font-style="italic">mdx</tspan></text>
<text transform="translate(382.80,705.00) rotate(-45)" text-anchor="end" font-size="10.6" fill="#111"><tspan font-style="italic">mdx</tspan>/miR-378<tspan font-size="6.5" dy="-3.5">-/-</tspan></text>
<text x="470.8" y="531.7" font-size="11.6" textLength="62.0" lengthAdjust="spacingAndGlyphs" fill="#111" stroke="#111" stroke-width="0.18">miR-133-5p</text>
<text x="485.0" y="547.8" font-size="12" textLength="32.9" lengthAdjust="spacingAndGlyphs" fill="#111" stroke="#111" stroke-width="0.18">serum</text>
<text transform="translate(432.7,639.5) rotate(-90)" font-size="12" fill="#111">2<tspan font-size="8" dy="-6.6">-ΔCt</tspan></text>
<circle cx="474.20" cy="694" r="2.75" fill="#000"/>
<circle cx="476.00" cy="694" r="2.75" fill="#000"/>
<circle cx="477.70" cy="694" r="2.75" fill="#000"/>
<circle cx="479.50" cy="694" r="2.75" fill="#000"/>
<circle cx="481.30" cy="694" r="2.75" fill="#000"/>
<circle cx="483.00" cy="694" r="2.75" fill="#000"/>
<path d="M467.3 565.6V694.0H536.3" fill="none" stroke="#000" stroke-width="1.35"/>
<line x1="463.8" y1="565.6" x2="467.3" y2="565.6" stroke="#000" stroke-width="1.4"/>
<text transform="translate(461.6,569.50) scale(0.94,1)" text-anchor="end" font-size="10.2" fill="#111" stroke="#111" stroke-width="0.12">0.004</text>
<line x1="463.8" y1="597.7" x2="467.3" y2="597.7" stroke="#000" stroke-width="1.4"/>
<text transform="translate(461.6,601.60) scale(0.94,1)" text-anchor="end" font-size="10.2" fill="#111" stroke="#111" stroke-width="0.12">0.003</text>
<line x1="463.8" y1="629.8" x2="467.3" y2="629.8" stroke="#000" stroke-width="1.4"/>
<text transform="translate(461.6,633.70) scale(0.94,1)" text-anchor="end" font-size="10.2" fill="#111" stroke="#111" stroke-width="0.12">0.002</text>
<line x1="463.8" y1="661.9" x2="467.3" y2="661.9" stroke="#000" stroke-width="1.4"/>
<text transform="translate(461.6,665.80) scale(0.94,1)" text-anchor="end" font-size="10.2" fill="#111" stroke="#111" stroke-width="0.12">0.001</text>
<line x1="463.8" y1="694.0" x2="467.3" y2="694.0" stroke="#000" stroke-width="1.4"/>
<text transform="translate(461.6,697.90) scale(0.94,1)" text-anchor="end" font-size="10.2" fill="#111" stroke="#111" stroke-width="0.12">0.000</text>
<line x1="478.00" y1="694.0" x2="478.00" y2="697.6" stroke="#000" stroke-width="1.4"/>
<line x1="501.10" y1="694.0" x2="501.10" y2="697.6" stroke="#000" stroke-width="1.4"/>
<line x1="524.20" y1="694.0" x2="524.20" y2="697.6" stroke="#000" stroke-width="1.4"/>
<path d="M498.50 597.15L504.50 597.15L501.50 591.85Z" fill="#ff0000"/>
<path d="M498.50 646.95L504.50 646.95L501.50 641.65Z" fill="#ff0000"/>
<path d="M493.70 663.35L499.70 663.35L496.70 658.05Z" fill="#ff0000"/>
<path d="M503.70 663.35L509.70 663.35L506.70 658.05Z" fill="#ff0000"/>
<path d="M498.50 672.55L504.50 672.55L501.50 667.25Z" fill="#ff0000"/>
<path d="M493.70 691.95L499.70 691.95L496.70 686.65Z" fill="#ff0000"/>
<path d="M503.70 687.85L509.70 687.85L506.70 682.55Z" fill="#ff0000"/>
<line x1="501.5" y1="645.4" x2="501.5" y2="669.9" stroke="#ff0000" stroke-width="1"/>
<line x1="498.3" y1="645.4" x2="504.7" y2="645.4" stroke="#ff0000" stroke-width="1.1"/>
<line x1="498.3" y1="669.9" x2="504.7" y2="669.9" stroke="#ff0000" stroke-width="1.1"/>
<line x1="494.0" y1="657.2" x2="509.0" y2="657.2" stroke="#ff0000" stroke-width="1.7"/>
<path d="M521.40 674.85L527.40 674.85L524.40 680.15Z" fill="#0000ff"/>
<path d="M526.60 672.25L532.60 672.25L529.60 677.55Z" fill="#0000ff"/>
<path d="M526.60 678.95L532.60 678.95L529.60 684.25Z" fill="#0000ff"/>
<path d="M521.40 684.05L527.40 684.05L524.40 689.35Z" fill="#0000ff"/>
<path d="M521.40 691.25L527.40 691.25L524.40 696.55Z" fill="#0000ff"/>
<line x1="524.4" y1="679.0" x2="524.4" y2="687.5" stroke="#0000ff" stroke-width="1"/>
<line x1="521.35" y1="679.0" x2="527.4499999999999" y2="679.0" stroke="#0000ff" stroke-width="1.1"/>
<line x1="521.35" y1="687.5" x2="527.4499999999999" y2="687.5" stroke="#0000ff" stroke-width="1.1"/>
<line x1="516.9499999999999" y1="683.6" x2="531.85" y2="683.6" stroke="#0000ff" stroke-width="1.7"/>
<line x1="474.4" y1="576.5" x2="500.8" y2="576.5" stroke="#555" stroke-width="1.1"/>
<path d="M478.20 566.40L478.20 570.80M476.29 567.50L480.11 569.70M480.11 567.50L476.29 569.70" stroke="#111" stroke-width="1.15" stroke-linecap="round"/>
<circle cx="478.20" cy="568.6" r="1.1" fill="#111"/>
<path d="M484.62 566.40L484.62 570.80M482.71 567.50L486.53 569.70M486.53 567.50L482.71 569.70" stroke="#111" stroke-width="1.15" stroke-linecap="round"/>
<circle cx="484.62" cy="568.6" r="1.1" fill="#111"/>
<path d="M491.04 566.40L491.04 570.80M489.13 567.50L492.95 569.70M492.95 567.50L489.13 569.70" stroke="#111" stroke-width="1.15" stroke-linecap="round"/>
<circle cx="491.04" cy="568.6" r="1.1" fill="#111"/>
<path d="M497.46 566.40L497.46 570.80M495.55 567.50L499.37 569.70M499.37 567.50L495.55 569.70" stroke="#111" stroke-width="1.15" stroke-linecap="round"/>
<circle cx="497.46" cy="568.6" r="1.1" fill="#111"/>
<line x1="507.5" y1="576.5" x2="533.5" y2="576.5" stroke="#555" stroke-width="1.1"/>
<text x="507.1" y="571" font-size="7.6" textLength="26.4" lengthAdjust="spacingAndGlyphs" fill="#222">p = 0.09</text>
<text transform="translate(481.20,706.50) rotate(-45)" text-anchor="end" font-size="10.6" fill="#111">WT</text>
<text transform="translate(504.30,706.50) rotate(-45)" text-anchor="end" font-size="10.6" fill="#111"><tspan font-style="italic">mdx</tspan></text>
<text transform="translate(525.40,705.00) rotate(-45)" text-anchor="end" font-size="10.6" fill="#111"><tspan font-style="italic">mdx</tspan>/miR-378<tspan font-size="6.5" dy="-3.5">-/-</tspan></text>
</svg></body></html>
